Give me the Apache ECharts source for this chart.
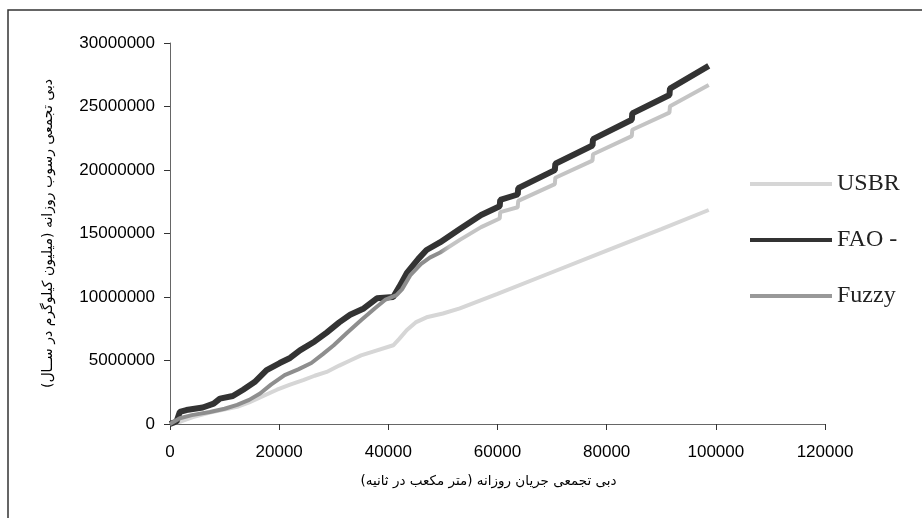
<!DOCTYPE html>
<html>
<head>
<meta charset="utf-8">
<script src="https://cdn.jsdelivr.net/npm/echarts@6/dist/echarts.min.js"></script>
<style>
  html, body { margin: 0; padding: 0; background: #fff; }
  #chart { width: 922px; height: 518px; }
</style>
</head>
<body>
<div id="chart"></div>
<script>
// x: cumulative daily flow, y: cumulative sediment (millions, scaled below)
const usbr = [
    [0, 0], [2000, 0.2], [4200, 0.55], [7300, 0.9], [9500, 1.1], [12300, 1.35],
    [14500, 1.7], [16500, 2.1], [19600, 2.7], [22000, 3.1], [24400, 3.45],
    [26500, 3.8], [28700, 4.1], [31000, 4.6], [33000, 5.0], [35000, 5.4],
    [37200, 5.7], [40900, 6.2], [42000, 6.7], [43400, 7.4], [45000, 8.0],
    [47000, 8.4], [50000, 8.7], [53100, 9.1], [60000, 10.25], [70000, 11.95],
    [80000, 13.65], [90000, 15.35], [98700, 16.85]
];
const fao = [
    [0, 0], [1200, 0.2], [1800, 0.95], [3000, 1.1], [6000, 1.3], [8000, 1.6],
    [9150, 2.0], [11500, 2.2], [13400, 2.7], [15500, 3.3], [17700, 4.25],
    [20100, 4.8], [22000, 5.2], [23800, 5.8], [26500, 6.5], [28700, 7.2],
    [31000, 8.0], [33000, 8.6], [35500, 9.1], [37900, 9.9], [40900, 10.0],
    [42000, 10.8], [43400, 11.9], [45500, 13.0], [47000, 13.7], [49450, 14.3],
    [53100, 15.35], [57000, 16.45], [60400, 17.14], [60500, 17.64],
    [63700, 18.07], [63800, 18.57], [70500, 19.99], [70600, 20.49],
    [77400, 21.93], [77500, 22.43], [84600, 23.96], [84700, 24.46],
    [91500, 25.91], [91600, 26.41], [98700, 28.2]
];
const fuzzy = [
    [0, 0], [1800, 0.45], [4000, 0.7], [7300, 0.95], [10000, 1.2], [12300, 1.5],
    [14500, 1.9], [16500, 2.4], [18500, 3.1], [21000, 3.85], [23500, 4.3],
    [25900, 4.8], [28000, 5.5], [30000, 6.2], [32500, 7.2], [35100, 8.2],
    [37500, 9.1], [39500, 9.8], [41500, 10.15], [42500, 10.6], [44000, 11.7],
    [46000, 12.6], [47600, 13.1], [49500, 13.5], [53100, 14.5], [57000, 15.5],
    [60400, 16.18], [60500, 16.68], [63700, 17.07], [63800, 17.57],
    [70500, 18.89], [70600, 19.39], [77400, 20.74], [77500, 21.24],
    [84600, 22.67], [84700, 23.17], [91500, 24.52], [91600, 25.02], [98700, 26.7]
];
const seriesNames = ['USBR', 'FAO -', 'Fuzzy'];
const xName = 'دبی تجمعی جریان روزانه (متر مکعب در ثانیه)';
const yName = 'دبی تجمعی رسوب روزانه (میلیون کیلوگرم در ســال)';

function toUnits(arr) {
    return arr.map(p => [p[0], p[1] * 1000000]);
}

const axisFont = { fontFamily: 'Liberation Sans', fontSize: 17, color: '#000', formatter: v => String(v) };

echarts.init(document.getElementById('chart')).setOption({
    animation: false,
    graphic: [{
        type: 'rect',
        shape: { x: 8, y: 10, width: 1000, height: 600 },
        style: { fill: 'none', stroke: '#333', lineWidth: 1.5 },
        silent: true
    }],
    grid: { left: 170, right: 97, top: 43, bottom: 94 },
    legend: {
        orient: 'vertical',
        left: 745,
        top: 167,
        icon: 'rect',
        itemWidth: 82,
        itemHeight: 4,
        itemGap: 32,
        data: seriesNames,
        textStyle: { fontFamily: 'Liberation Serif', fontSize: 24, lineHeight: 24, color: '#222' }
    },
    xAxis: {
        type: 'value',
        min: 0,
        max: 120000,
        interval: 20000,
        name: xName,
        nameLocation: 'middle',
        nameGap: 50,
        nameTextStyle: { fontFamily: 'DejaVu Sans', fontSize: 13.5, color: '#000', padding: [0, 18, 0, 0] },
        axisLine: { lineStyle: { color: '#666' } },
        axisTick: { length: 6, lineStyle: { color: '#333' } },
        axisLabel: Object.assign({ margin: 20 }, axisFont),
        splitLine: { show: false }
    },
    yAxis: {
        type: 'value',
        min: 0,
        max: 30000000,
        interval: 5000000,
        name: yName,
        nameLocation: 'middle',
        nameRotate: 90,
        nameGap: 115,
        nameTextStyle: { fontFamily: 'DejaVu Sans', fontSize: 14, color: '#000' },
        axisLine: { show: true, lineStyle: { color: '#666' } },
        axisTick: { show: true, length: 6, lineStyle: { color: '#333' } },
        axisLabel: Object.assign({ margin: 15 }, axisFont),
        splitLine: { show: false }
    },
    series: [{
        name: seriesNames[0],
        type: 'line',
        symbol: 'none',
        data: toUnits(usbr),
        color: '#d6d6d6',
        lineStyle: { width: 4, color: '#d6d6d6' }
    }, {
        name: seriesNames[1],
        type: 'line',
        symbol: 'none',
        data: toUnits(fao),
        color: '#333',
        lineStyle: { width: 6, color: '#333' }
    }, {
        name: seriesNames[2],
        type: 'line',
        symbol: 'none',
        data: toUnits(fuzzy),
        color: '#999',
        lineStyle: {
            width: 4,
            color: new echarts.graphic.LinearGradient(0, 0, 1, 0, [
                { offset: 0, color: '#8e8e8e' },
                { offset: 0.5, color: '#8e8e8e' },
                { offset: 0.52, color: '#c4c4c4' },
                { offset: 1, color: '#c4c4c4' }
            ])
        }
    }]
});
</script>
</body>
</html>
